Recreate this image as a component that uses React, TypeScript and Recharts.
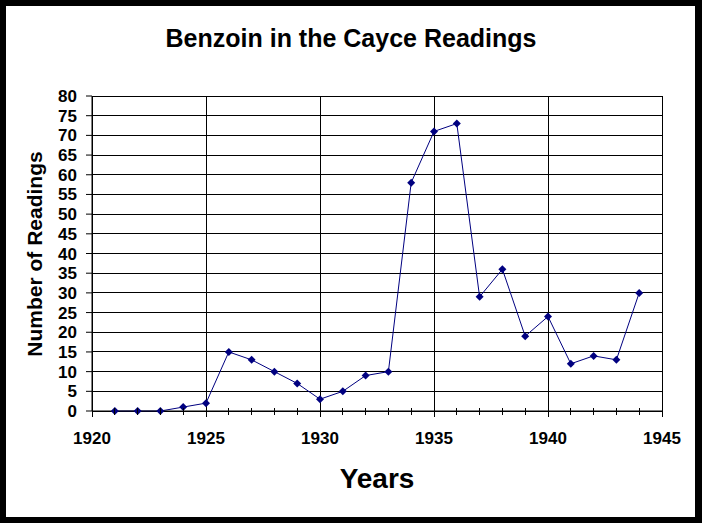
import { LineChart, Line, XAxis, YAxis, CartesianGrid } from "recharts";

const YEARS = [1921, 1922, 1923, 1924, 1925, 1926, 1927, 1928, 1929, 1930, 1931, 1932, 1933, 1934, 1935, 1936, 1937, 1938, 1939, 1940, 1941, 1942, 1943, 1944];
const READINGS = [0, 0, 0, 1, 2, 15, 13, 10, 7, 3, 5, 9, 10, 58, 71, 73, 29, 36, 19, 24, 12, 14, 13, 30];
const Y_TICKS = [0, 5, 10, 15, 20, 25, 30, 35, 40, 45, 50, 55, 60, 65, 70, 75, 80];
const X_TICKS = [1920, 1921, 1922, 1923, 1924, 1925, 1926, 1927, 1928, 1929, 1930, 1931, 1932, 1933, 1934, 1935, 1936, 1937, 1938, 1939, 1940, 1941, 1942, 1943, 1944, 1945];
const X_GRID = [1920, 1925, 1930, 1935, 1940, 1945];

const FONT = "'Liberation Sans', Arial, sans-serif";
const NAVY = "#000080";

const data = YEARS.map((year, i) => ({ year, count: READINGS[i] }));

function YearTick(props: any) {
  const { x, y, payload } = props;
  const major = payload.value % 5 === 0;
  return (
    <g>
      <line x1={x} x2={x} y1={major ? y : y - 3} y2={major ? y + 6 : y + 4} stroke="#000" shapeRendering="crispEdges" />
      {major && (
        <text x={x} y={y + 33} textAnchor="middle" fontFamily={FONT} fontWeight="bold" fontSize={17} fill="#000">
          {payload.value}
        </text>
      )}
    </g>
  );
}

function Diamond(props: any) {
  const { cx, cy } = props;
  if (cx == null || cy == null) return null;
  const r = 4;
  return <polygon points={`${cx},${cy - r} ${cx + r},${cy} ${cx},${cy + r} ${cx - r},${cy}`} fill={NAVY} />;
}

export default function App() {
  return (
    <div style={{ position: "absolute", left: 0, top: 0, width: 702, height: 523, background: "#000" }}>
      <div style={{ position: "absolute", left: 6, top: 6, width: 689, height: 511, background: "#fff" }} />
      <div
        style={{
          position: "absolute",
          left: 0,
          top: 26,
          width: 702,
          textAlign: "center",
          fontFamily: FONT,
          fontWeight: "bold",
          fontSize: 25,
          lineHeight: "25px",
          color: "#000",
        }}
      >
        Benzoin in the Cayce Readings
      </div>
      <LineChart
        width={702}
        height={523}
        data={data}
        margin={{ top: 96, right: 40, left: 32, bottom: 72 }}
        style={{ position: "absolute", left: 0, top: 0 }}
      >
        <CartesianGrid stroke="#000" verticalValues={X_GRID} shapeRendering="crispEdges" />
        <XAxis
          dataKey="year"
          type="number"
          domain={[1920, 1945]}
          ticks={X_TICKS}
          interval={0}
          height={40}
          tickSize={0}
          tickMargin={0}
          tickLine={false}
          axisLine={{ stroke: "#000" }}
          tick={<YearTick />}
          label={{
            content: () => (
              <text x={377} y={488} textAnchor="middle" fontFamily={FONT} fontWeight="bold" fontSize={28} fill="#000">
                Years
              </text>
            ),
          }}
        />
        <YAxis
          type="number"
          domain={[0, 80]}
          ticks={Y_TICKS}
          interval={0}
          width={60}
          tickSize={6}
          tickMargin={9}
          tickLine={{ stroke: "#000" }}
          axisLine={{ stroke: "#000" }}
          tick={{ fill: "#000", fontFamily: FONT, fontWeight: "bold", fontSize: 17 }}
          label={{
            content: () => (
              <text
                x={42}
                y={254}
                transform="rotate(-90 42 254)"
                textAnchor="middle"
                fontFamily={FONT}
                fontWeight="bold"
                fontSize={21}
                fill="#000"
              >
                Number of Readings
              </text>
            ),
          }}
        />
        <Line
          type="linear"
          dataKey="count"
          stroke={NAVY}
          strokeWidth={1}
          dot={<Diamond />}
          activeDot={false}
          isAnimationActive={false}
        />
      </LineChart>
    </div>
  );
}
